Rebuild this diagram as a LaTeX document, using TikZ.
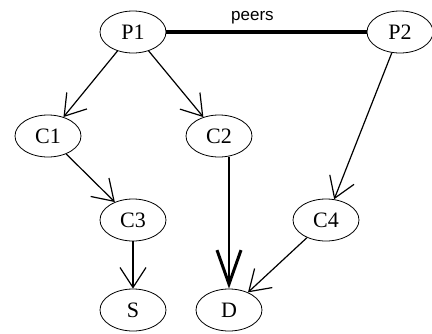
\documentclass[tikz,border=0pt]{standalone}
\usepackage{fontspec}
\setmainfont{Liberation Serif}
\newfontfamily\peerfont{Liberation Sans}
\usetikzlibrary{positioning,arrows.meta,shapes.geometric}
\tikzset{font=\fontsize{22}{26}\selectfont}
\tikzset{
	as/.style={ellipse, draw, line width=0.8pt, minimum width=66pt, minimum height=42pt, inner sep=0pt},
	link/.style={line width=1.2pt, -{Straight Barb[length=20pt, width=26pt, line width=1.2pt]}},
	biglink/.style={line width=2.6pt, -{Straight Barb[length=34pt, width=24pt, line width=3pt]}},
	peer/.style={line width=4pt}
}

\begin{document}
\begin{tikzpicture}[x=1pt, y=-1pt]
	\useasboundingbox (0, 0) rectangle (432, 333);
	\begin{scope}
		\node[as] (p1) at (133, 32) {P1};
		\node[as] (p2) at (400, 32) {P2};

		\node[as] (c1) at (48, 136) {C1};
		\node[as] (c2) at (219, 136) {C2};

		\node[as] (c3) at (133, 220) {C3};
		\node[as] (c4) at (326, 220) {C4};

		\node[as] (s) at (133, 310) {S};
		\node[as] (d) at (229, 310) {D};

		\draw [peer] (p1) to node[above=3pt, pos=0.43, font=\peerfont\fontsize{17}{20}\selectfont] {peers} (p2);
		\draw [link] (p1) to (c1);
		\draw [link] (p1) to (c2);
		\draw [link] (c1) to (c3);
		\draw [link] (p2) to (c4);
		\draw [link] (c3) to (s);
		\draw [link] (c4) to (d);
		\draw [biglink] (c2.south -| d.north) to (d);
	\end{scope}
\end{tikzpicture}
\end{document}
